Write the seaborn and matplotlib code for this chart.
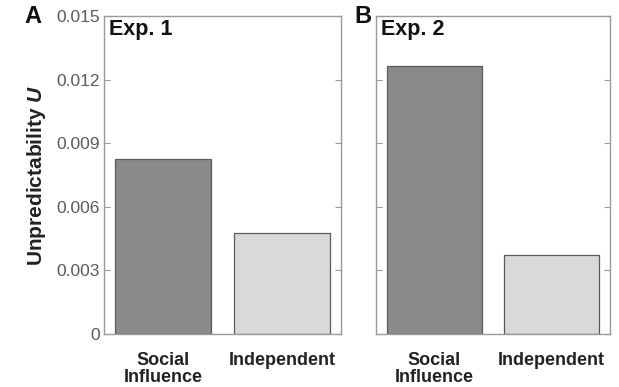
import matplotlib
matplotlib.use("Agg")
import matplotlib.pyplot as plt
import seaborn as sns
import pandas as pd

sns.set_theme(style="white")
plt.rcParams["font.family"] = ["Liberation Sans", "DejaVu Sans"]
plt.rcParams["mathtext.fontset"] = "custom"
plt.rcParams["mathtext.it"] = "Liberation Sans:italic:bold"

# Unpredictability U per condition
conditions = ["Social\nInfluence", "Independent"]
exp1_u = [0.00824, 0.00475]
exp2_u = [0.01264, 0.00374]
bar_colors = ["#8a8a8a", "#d9d9d9"]
yticks = [0, 0.003, 0.006, 0.009, 0.012, 0.015]
ytick_labels = ["0", "0.003", "0.006", "0.009", "0.012", "0.015"]

fig = plt.figure(figsize=(6.19, 3.87), dpi=100)
ax_a = fig.add_axes([104 / 619, 53 / 387, 237 / 619, 318 / 387])
ax_b = fig.add_axes([376 / 619, 53 / 387, 234 / 619, 318 / 387])

spine_color = "#9a9a9a"

for ax, vals, title in [(ax_a, exp1_u, "Exp. 1"), (ax_b, exp2_u, "Exp. 2")]:
    df = pd.DataFrame({"condition": conditions, "U": vals})
    sns.barplot(data=df, x="condition", y="U", hue="condition",
                palette=bar_colors, width=0.81, edgecolor="#5a5a5a",
                linewidth=0.9, legend=False, ax=ax)
    ax.set_ylim(0, 0.015)
    ax.set_xlim(-0.5, 1.5)
    ax.set_yticks(yticks)
    ax.set_xlabel("")
    ax.set_ylabel("")
    for s in ax.spines.values():
        s.set_visible(True)
        s.set_color(spine_color)
        s.set_linewidth(1.0)
    ax.tick_params(axis="y", which="both", direction="in", left=True,
                   right=True, length=4, width=0.8, color=spine_color,
                   labelsize=12.5, labelcolor="#5a5a5a", pad=3)
    ax.tick_params(axis="x", bottom=False, labelsize=13, pad=7)
    for lab in ax.get_xticklabels():
        lab.set_fontweight("bold")
        lab.set_color("#222222")
        lab.set_linespacing(1.0)
    ax.text(0.02, 0.99, title, transform=ax.transAxes, ha="left", va="top",
            fontsize=15.5, fontweight="bold", color="#111111")

ax_a.set_yticklabels(ytick_labels)
ax_b.set_yticklabels([])
ax_a.set_ylabel("Unpredictability $\\mathit{U}$", fontsize=15,
                fontweight="bold", color="#222222", labelpad=6)

fig.text(24 / 619, 1 - 23 / 387, "A", fontsize=17, fontweight="bold",
         color="#111111")
fig.text(354 / 619, 1 - 23 / 387, "B", fontsize=17, fontweight="bold",
         color="#111111")

fig.savefig("out.png", dpi=100)
